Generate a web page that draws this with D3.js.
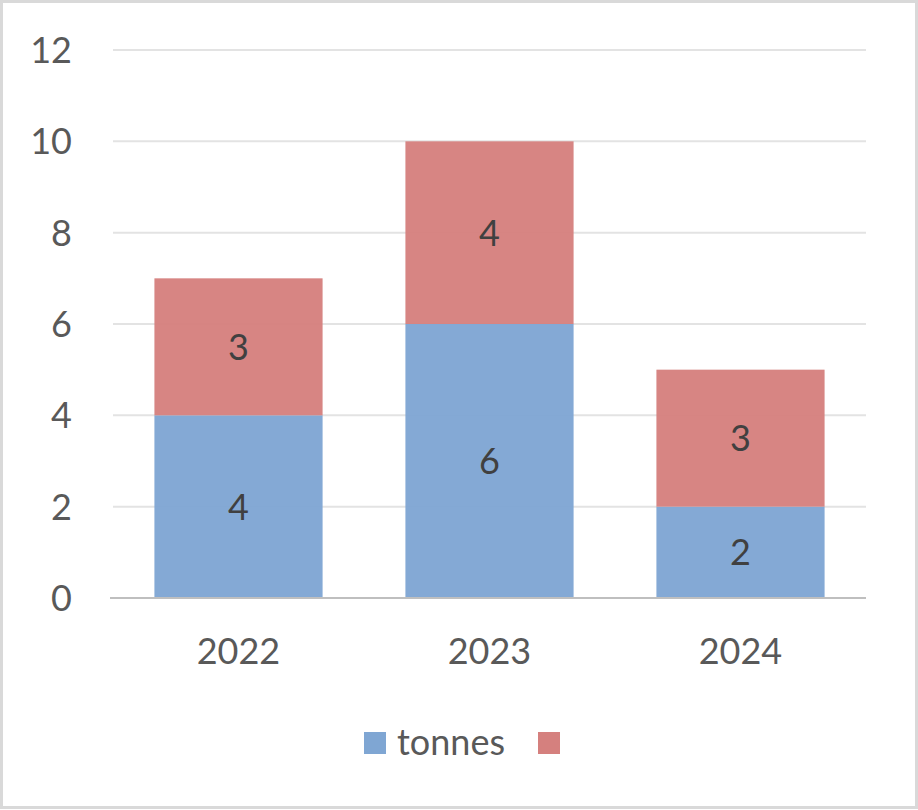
<!DOCTYPE html>
<html>
<head>
<script src="https://d3js.org/d3.v7.min.js"></script>
<style>
  body { margin: 0; background: #fff; }
  text { font-family: Lato, "Open Sans", sans-serif; fill: #595959; }
</style>
</head>
<body>
<svg width="918" height="810"></svg>
<script>
  // chart data
  var years = ["2022", "2023", "2024"];
  var seriesNames = ["tonnes", ""];
  var tonnes = [4, 6, 2];
  var second = [3, 4, 3];
  var yTicks = [0, 2, 4, 6, 8, 10, 12];
  var colors = ["#7fa6d3", "#d5807e"];

  var svg = d3.select("svg");

  // outer border
  svg.append("rect")
    .attr("x", 1.5).attr("y", 1.5)
    .attr("width", 915).attr("height", 806)
    .attr("fill", "#fff")
    .attr("stroke", "#d9d9d9")
    .attr("stroke-width", 3);

  var x = d3.scaleBand().domain(years).range([113, 866])
    .paddingInner(0.33).paddingOuter(0.165);
  var y = d3.scaleLinear().domain([0, 12]).range([598, 50]);

  // gridlines
  svg.append("g").selectAll("line")
    .data(yTicks.slice(1))
    .enter().append("line")
    .attr("x1", 113).attr("x2", 866)
    .attr("y1", function(d) { return y(d); })
    .attr("y2", function(d) { return y(d); })
    .attr("stroke", "#e3e3e3")
    .attr("stroke-width", 2);

  // y tick labels
  svg.append("g").selectAll("text")
    .data(yTicks)
    .enter().append("text")
    .attr("x", 72)
    .attr("y", function(d) { return y(d) + 13; })
    .attr("text-anchor", "end")
    .attr("font-size", "36px")
    .text(function(d) { return d; });

  // stacked series
  var rows = years.map(function(yr, i) { return { year: yr, a: tonnes[i], b: second[i] }; });
  var stack = d3.stack().keys(["a", "b"])(rows);

  stack.forEach(function(layer, si) {
    var g = svg.append("g");
    g.selectAll("rect")
      .data(layer)
      .enter().append("rect")
      .attr("x", function(d) { return x(d.data.year); })
      .attr("y", function(d) { return y(d[1]); })
      .attr("width", x.bandwidth())
      .attr("height", function(d) { return y(d[0]) - y(d[1]); })
      .attr("fill", colors[si])
      .attr("fill-opacity", 0.96);
    g.selectAll("text")
      .data(layer)
      .enter().append("text")
      .attr("x", function(d) { return x(d.data.year) + x.bandwidth() / 2; })
      .attr("y", function(d) { return y((d[0] + d[1]) / 2) + 13; })
      .attr("text-anchor", "middle")
      .attr("font-size", "36px")
      .style("fill", "#404040")
      .text(function(d) { return d[1] - d[0]; });
  });

  // baseline
  svg.append("line")
    .attr("x1", 110).attr("x2", 866)
    .attr("y1", y(0)).attr("y2", y(0))
    .attr("stroke", "#bfbfbf")
    .attr("stroke-width", 2);

  // x labels
  svg.append("g").selectAll("text")
    .data(years)
    .enter().append("text")
    .attr("x", function(d) { return x(d) + x.bandwidth() / 2; })
    .attr("y", 664)
    .attr("text-anchor", "middle")
    .attr("font-size", "36px")
    .text(function(d) { return d; });

  // legend
  var legendX = [364, 538];
  seriesNames.forEach(function(name, i) {
    svg.append("rect")
      .attr("x", legendX[i]).attr("y", 732)
      .attr("width", 22).attr("height", 22)
      .attr("fill", colors[i]);
    svg.append("text")
      .attr("x", legendX[i] + 33).attr("y", 755)
      .attr("font-size", "36px")
      .text(name);
  });
</script>
</body>
</html>
